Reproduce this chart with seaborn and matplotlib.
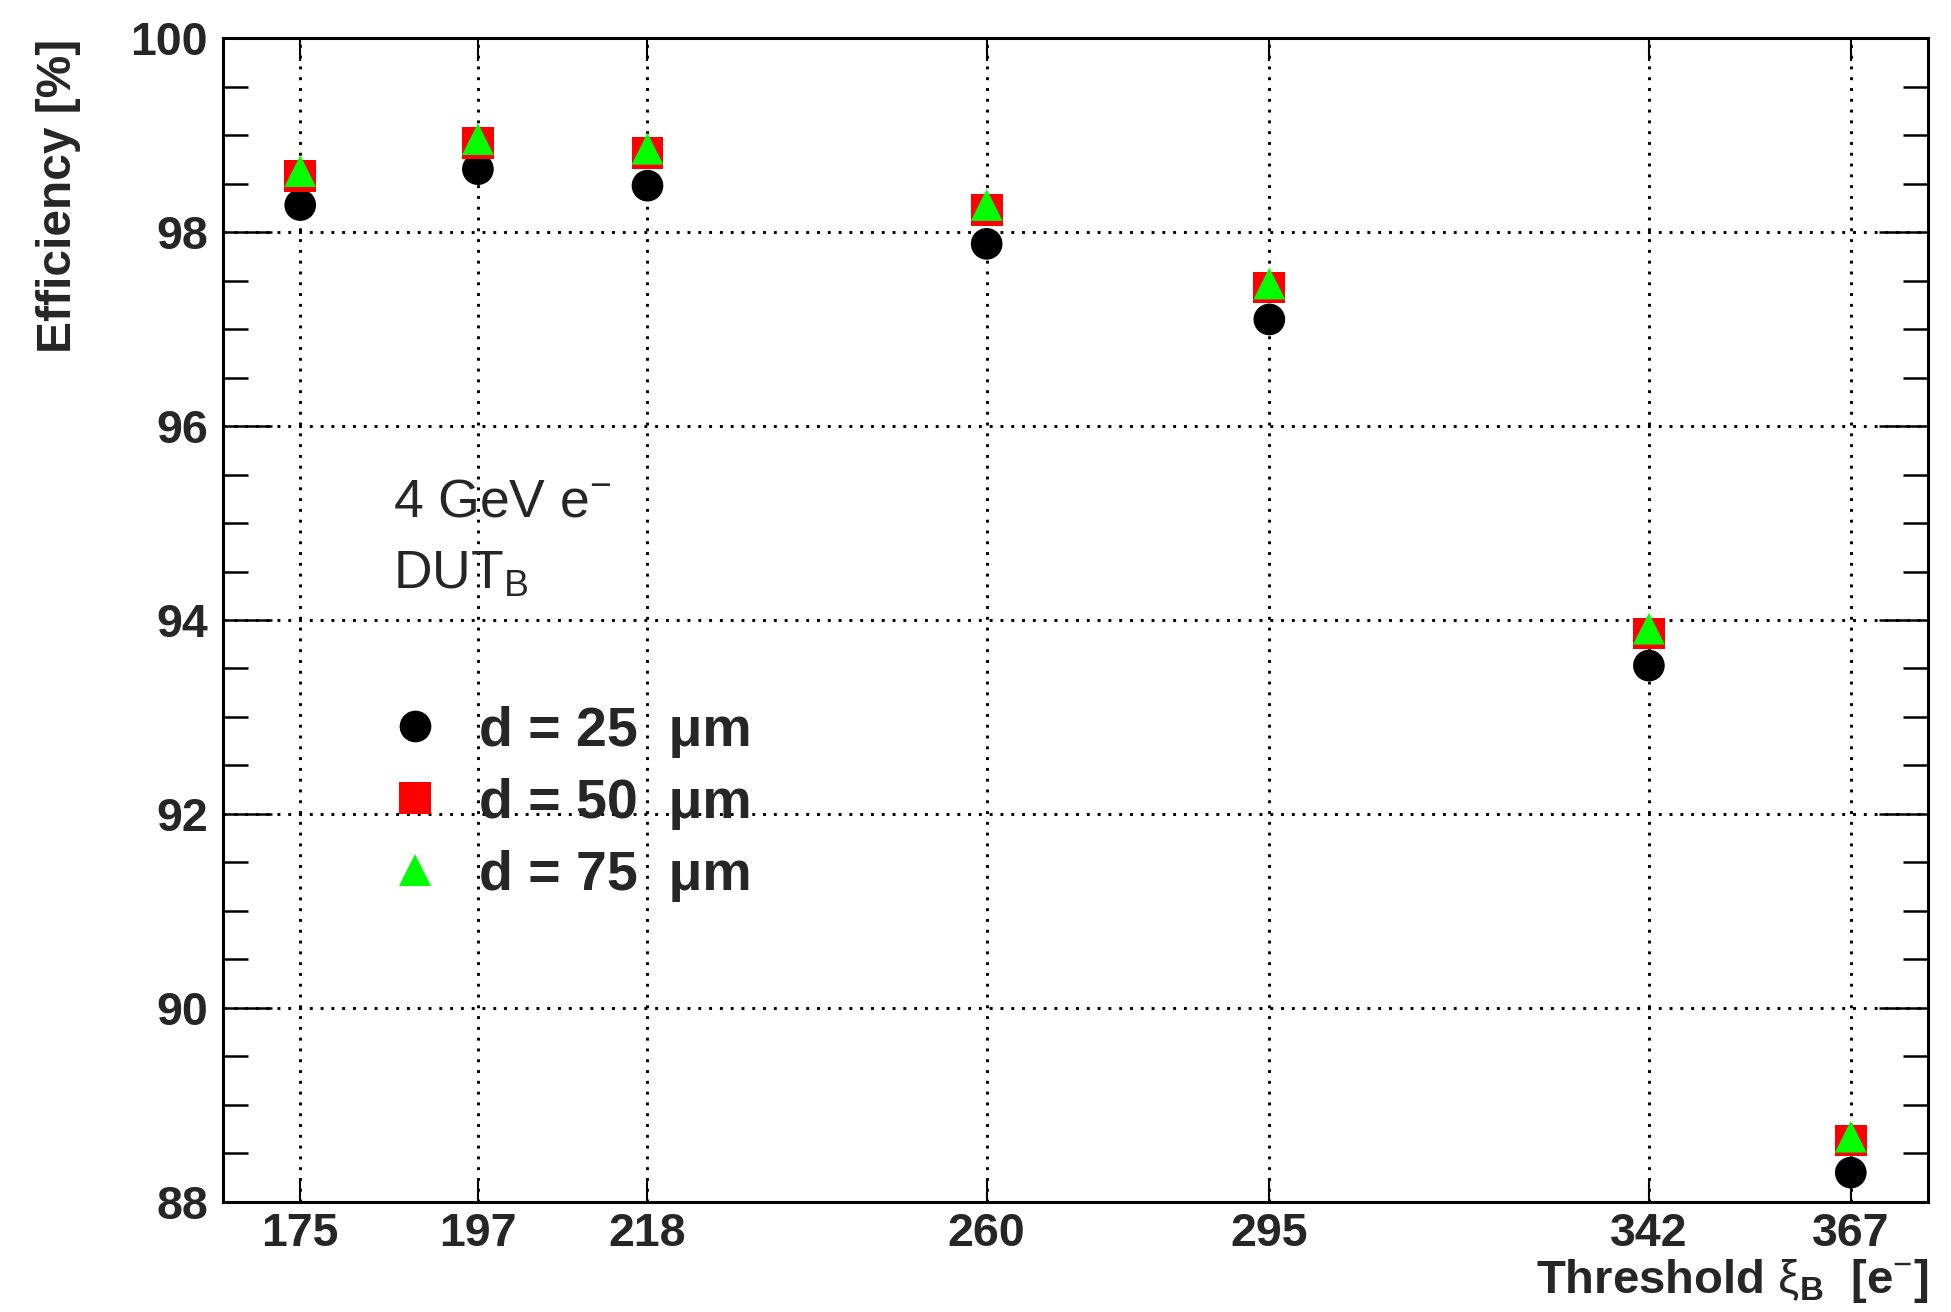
import numpy as np
import pandas as pd
import matplotlib
matplotlib.use("Agg")
import matplotlib.pyplot as plt
from matplotlib.lines import Line2D
from matplotlib.ticker import MultipleLocator, FixedLocator
import seaborn as sns

# ---- data ----
thresholds = [175, 197, 218, 260, 295, 342, 367]
eff_d25 = [98.28, 98.65, 98.48, 97.88, 97.10, 93.53, 88.30]
eff_d50 = [98.58, 98.92, 98.82, 98.23, 97.43, 93.86, 88.63]
eff_d75 = [98.63, 98.96, 98.86, 98.28, 97.47, 93.91, 88.67]
series_labels = ["d = 25  \u03bcm", "d = 50  \u03bcm", "d = 75  \u03bcm"]
series_colors = ["#000000", "#ff0000", "#00ff00"]
series_markers = ["o", "s", "^"]
xtick_labels = [str(t) for t in thresholds]

df = pd.concat([
    pd.DataFrame({"threshold": thresholds, "efficiency": vals, "series": lab})
    for vals, lab in zip([eff_d25, eff_d50, eff_d75], series_labels)
], ignore_index=True)

# ---- style ----
sns.set_style("white")
plt.rcParams["font.family"] = ["Liberation Sans", "DejaVu Sans"]
plt.rcParams["mathtext.fontset"] = "custom"
plt.rcParams["mathtext.rm"] = "Liberation Sans"
plt.rcParams["mathtext.it"] = "Liberation Sans:italic"
plt.rcParams["mathtext.bf"] = "Liberation Sans:bold"

fig = plt.figure(figsize=(19.51, 13.12), dpi=100)
ax = fig.add_axes([0.11415, 0.08407, 0.87422, 0.88674])

ms = 22.8
sns.scatterplot(
    data=df, x="threshold", y="efficiency",
    hue="series", style="series",
    palette=dict(zip(series_labels, series_colors)),
    markers=dict(zip(series_labels, series_markers)),
    hue_order=series_labels, style_order=series_labels,
    s=ms ** 2, linewidth=0, legend=False, ax=ax, zorder=3,
)

ax.set_xlim(165.4, 376.6)
ax.set_ylim(88, 100)

# ticks
ax.xaxis.set_major_locator(FixedLocator(thresholds))
ax.set_xticklabels(xtick_labels)
ax.yaxis.set_major_locator(MultipleLocator(2))
ax.yaxis.set_minor_locator(MultipleLocator(0.5))
ax.tick_params(axis="x", which="major", direction="in", top=True, bottom=True,
               length=16.5, width=1.5, labelsize=33.5, pad=7.5, color="black")
ax.tick_params(axis="y", which="major", direction="in", left=True, right=True,
               length=35, width=1.8, labelsize=33.5, pad=10.6, color="black")
ax.tick_params(axis="y", which="minor", direction="in", left=True, right=True,
               length=18, width=1.8, color="black")
for lab in ax.get_xticklabels() + ax.get_yticklabels():
    lab.set_fontweight("bold")

# grid
ax.grid(True, which="major", axis="both", color="black",
        linestyle=(0, (1, 2.7)), linewidth=2.1, zorder=1)
ax.set_axisbelow(True)

for sp in ax.spines.values():
    sp.set_linewidth(2.2)
    sp.set_color("black")

# axis labels
ax.set_ylabel("Efficiency [%]", fontsize=34.5, fontweight="bold", loc="top")
ax.yaxis.set_label_coords(-0.083, 1.0)
ax.set_xlabel(r"Threshold $\mathrm{\xi}_{\mathbf{B}}$  [e$^{-}$]",
              fontsize=34, fontweight="bold", loc="right")
ax.xaxis.set_label_coords(1.0, -0.0785)
ax.xaxis.label.set_va("baseline")

# annotations
ax.text(0.0997, 0.5888, r"4 GeV e$^{-}$", transform=ax.transAxes,
        fontsize=38.5, va="baseline", ha="left")
ax.text(0.0997, 0.5266, r"DUT$_{\mathrm{B}}$", transform=ax.transAxes,
        fontsize=38.5, va="baseline", ha="left")

# legend
handles = [Line2D([], [], linestyle="none", marker=m, markersize=ms,
                  markerfacecolor=c, markeredgewidth=0, color=c)
           for m, c in zip(series_markers, series_colors)]
leg = ax.legend(handles, series_labels, loc="upper left",
                bbox_to_anchor=(0.0964, 0.4265), frameon=False,
                borderaxespad=0, borderpad=0, handlelength=1.0,
                handletextpad=0.66, labelspacing=0.36,
                prop={"family": "Liberation Sans", "weight": "bold", "size": 40})

fig.savefig("out.png", dpi=100)
